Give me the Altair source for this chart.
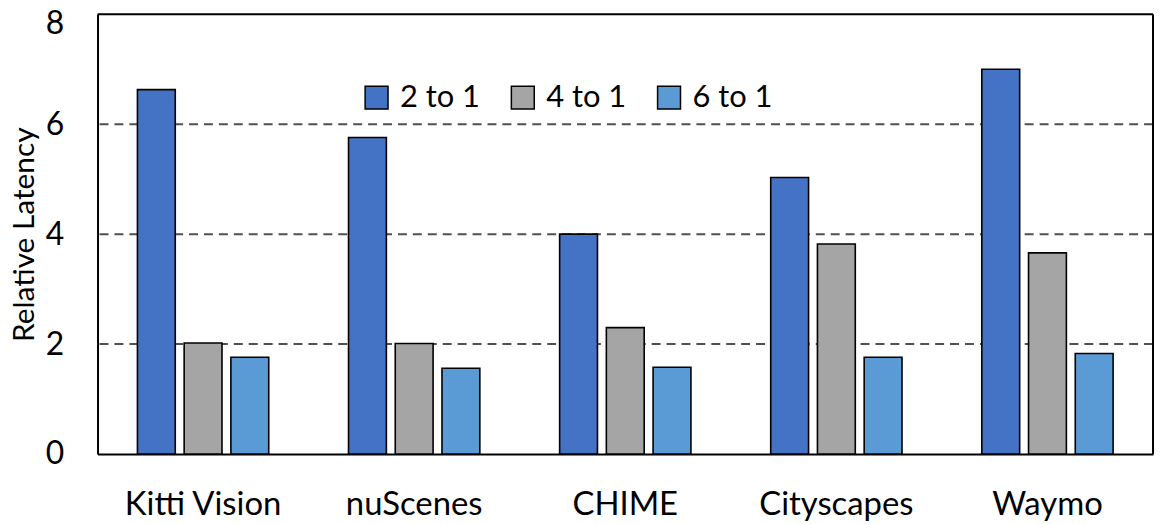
import altair as alt
import pandas as pd

datasets = ["Kitti Vision", "nuScenes", "CHIME", "Cityscapes", "Waymo"]
series = ["2 to 1", "4 to 1", "6 to 1"]
vals_2to1 = [6.63, 5.76, 4.00, 5.03, 7.00]
vals_4to1 = [2.02, 2.01, 2.30, 3.82, 3.66]
vals_6to1 = [1.76, 1.56, 1.58, 1.76, 1.83]
colors = ["#4472C4", "#A5A5A5", "#5B9BD5"]
grid_vals = [2, 4, 6]

rows = []
for s, vals in zip(series, [vals_2to1, vals_4to1, vals_6to1]):
    for d, v in zip(datasets, vals):
        rows.append({"dataset": d, "series": s, "value": v})
df = pd.DataFrame(rows)
grid_df = pd.DataFrame({"g": grid_vals})
frame_df = pd.DataFrame({"f": [0]})

FONT = "Lato"
W, H = 1061, 442

yscale = alt.Scale(domain=[0, 8], nice=False)

grid = alt.Chart(grid_df).mark_rule(
    color="#505050", strokeWidth=2, strokeDash=[9, 6]
).encode(y=alt.Y("g:Q", scale=yscale))

bars = alt.Chart(df).mark_bar(stroke="black", strokeWidth=1.6).encode(
    x=alt.X(
        "dataset:N",
        sort=datasets,
        scale=alt.Scale(paddingInner=0.378, paddingOuter=0.189),
        axis=alt.Axis(
            title=None, labelAngle=0, labelFontSize=33, labelFont=FONT,
            labelColor="black", labelPadding=35, ticks=False,
            domain=True, domainColor="black", domainWidth=2,
        ),
    ),
    xOffset=alt.XOffset(
        "series:N", sort=series,
        scale=alt.Scale(paddingInner=0.19, paddingOuter=0),
    ),
    y=alt.Y(
        "value:Q",
        scale=yscale,
        axis=alt.Axis(
            title="Relative Latency", values=[0, 2, 4, 6, 8], format="d",
            grid=False, ticks=False, domain=True, domainColor="black",
            domainWidth=2, labelFontSize=32,
            labelFont=FONT, labelColor="black", labelPadding=34,
            labelOffset=alt.condition("datum.value == 8", alt.value(9), alt.value(0)),
            titleFont=FONT, titleFontSize=30, titleFontWeight="normal",
            titleColor="black", titlePadding=6,
        ),
    ),
    color=alt.Color(
        "series:N", sort=series,
        scale=alt.Scale(domain=series, range=colors),
        legend=alt.Legend(
            title=None, orient="none", direction="horizontal",
            legendX=265, legendY=68, symbolType="square", symbolSize=530,
            symbolStrokeColor="black", symbolStrokeWidth=1.5,
            labelFont=FONT, labelFontSize=31, labelColor="black",
            columnPadding=27, labelOffset=8,
        ),
    ),
)

top_edge = alt.Chart(frame_df).mark_rule(color="black", strokeWidth=2).encode(
    x=alt.value(0), x2=alt.value(W), y=alt.value(0)
)
right_edge = alt.Chart(frame_df).mark_rule(color="black", strokeWidth=2).encode(
    x=alt.value(W), y=alt.value(0), y2=alt.value(H)
)

chart = alt.layer(grid, bars, top_edge, right_edge).properties(
    width=W, height=H,
    autosize=alt.AutoSizeParams(type="none"),
    padding={"left": 90, "top": 5, "right": 2, "bottom": 70},
).configure(background="white").configure_view(stroke=None)

chart.save("out.html", embed_options={"renderer": "svg", "actions": False})
